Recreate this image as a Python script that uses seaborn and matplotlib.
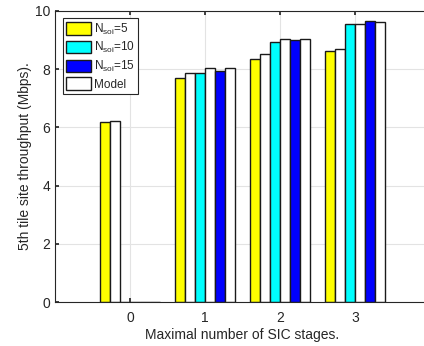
import matplotlib
matplotlib.use("Agg")
import matplotlib.pyplot as plt
import seaborn as sns
import pandas as pd
from matplotlib.patches import Patch

stages = [0, 1, 2, 3]
nsoi5 = [6.17, 7.68, 8.34, 8.62]
model5 = [6.23, 7.87, 8.53, 8.69]
nsoi10 = [0.0, 7.87, 8.94, 9.54]
model10 = [0.0, 8.02, 9.02, 9.54]
nsoi15 = [0.0, 7.94, 9.00, 9.66]
model15 = [0.0, 8.02, 9.04, 9.61]

series_names = ["N5", "M5", "N10", "M10", "N15", "M15"]
series_vals = [nsoi5, model5, nsoi10, model10, nsoi15, model15]
series_colors = ["#ffff00", "#ffffff", "#00ffff", "#ffffff", "#0000ff", "#ffffff"]

rows = []
for name, vals in zip(series_names, series_vals):
    for s, v in zip(stages, vals):
        rows.append({"stage": s, "series": name, "value": v})
df = pd.DataFrame(rows)

sns.set_theme(style="whitegrid")
plt.rcParams['font.family'] = ['Liberation Sans', 'DejaVu Sans']
plt.rcParams['mathtext.fontset'] = 'custom'
plt.rcParams['mathtext.rm'] = 'Liberation Sans'
plt.rcParams['mathtext.it'] = 'Liberation Sans:italic'

fig = plt.figure(figsize=(4.24, 3.46), dpi=100)
ax = fig.add_axes([55/424, 43.7/346, 375/424, 291.6/346])

sns.barplot(data=df, x="stage", y="value", hue="series", hue_order=series_names,
            palette=dict(zip(series_names, series_colors)), width=0.8,
            edgecolor="#1a1a1a", linewidth=1.0, ax=ax, legend=False, errorbar=None,
            saturation=1)

ax.set_xlim(-1, 4)
ax.set_ylim(0, 10)
ax.set_yticks([0, 2, 4, 6, 8, 10])
ax.set_xticks([0, 1, 2, 3])
ax.set_xticklabels(["0", "1", "2", "3"])
ax.set_xlabel("Maximal number of SIC stages.", fontsize=10, labelpad=2.5, color="#262626")
ax.set_ylabel("5th tile site throughput (Mbps).", fontsize=10, labelpad=2, color="#262626")
ax.tick_params(axis="both", direction="in", length=3, labelsize=10, colors="#262626",
               top=True, right=True, bottom=True, left=True)
ax.tick_params(axis="x", pad=6)
ax.tick_params(axis="y", pad=3.5)
ax.grid(True, color="#e3e3e3", linewidth=0.8)
ax.set_axisbelow(True)
for sp in ax.spines.values():
    sp.set_color("#262626")
    sp.set_linewidth(0.8)

handles = [
    Patch(facecolor="#ffff00", edgecolor="#1a1a1a", label=r"N$_{\mathrm{soi}}$=5"),
    Patch(facecolor="#00ffff", edgecolor="#1a1a1a", label=r"N$_{\mathrm{soi}}$=10"),
    Patch(facecolor="#0000ff", edgecolor="#1a1a1a", label=r"N$_{\mathrm{soi}}$=15"),
    Patch(facecolor="#ffffff", edgecolor="#1a1a1a", label="Model"),
]
leg = ax.legend(handles=handles, loc="upper left", bbox_to_anchor=(0.021, 0.975),
                fontsize=8.5, frameon=True, fancybox=False, framealpha=1,
                edgecolor="#262626", handlelength=2.1, handleheight=1.25,
                handletextpad=0.2, labelspacing=0.3, borderpad=0.3, borderaxespad=0)
leg.get_frame().set_linewidth(0.8)

fig.savefig("out.png", dpi=100)
